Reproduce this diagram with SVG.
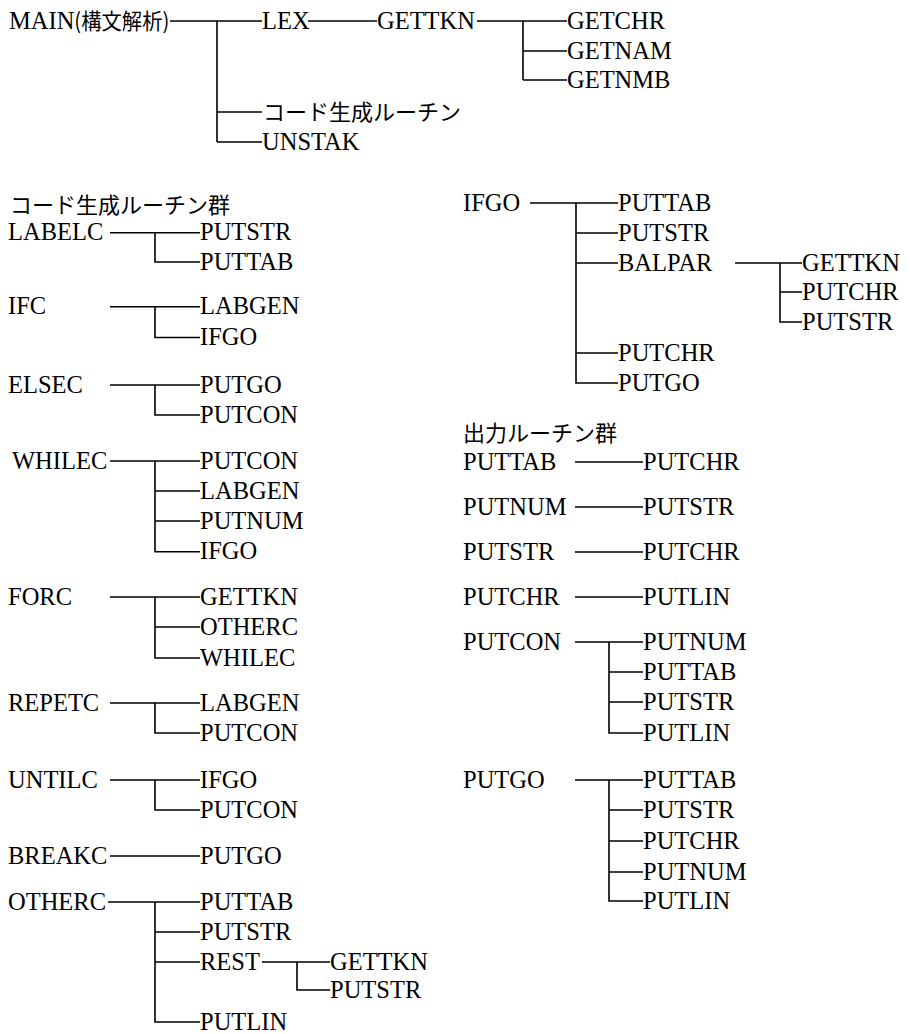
<svg xmlns="http://www.w3.org/2000/svg" width="910" height="1034" viewBox="0 0 910 1034">
<style>
.t{font-family:"Liberation Serif","Times New Roman",serif;font-size:24.5px;fill:#000}
.j{font-family:"Noto Sans CJK JP","Noto Sans CJK SC",sans-serif;font-size:22px;fill:#000}
.c{stroke:#000;stroke-width:1.6;fill:none}
</style>
<rect width="910" height="1034" fill="#fff"/>
<g id="connectors">
<path class="c" d="M170 21H262M217 21V142M217 112H262M217 142H262"/>
<path class="c" d="M308 21H377"/>
<path class="c" d="M477 21H567M523 21V80M523 51H567M523 80H567"/>
<path class="c" d="M110 232.7H200M155 232.7V262H200"/>
<path class="c" d="M110 306.7H200M155 306.7V337.5H200"/>
<path class="c" d="M110 385H200M155 385V415H200"/>
<path class="c" d="M110 461H200M155 461V551.7H200M155 491H200M155 521H200"/>
<path class="c" d="M110 597H200M155 597V658H200M155 627H200"/>
<path class="c" d="M110 703H200M155 703V733H200"/>
<path class="c" d="M110 780H200M155 780V810H200"/>
<path class="c" d="M110 856H200"/>
<path class="c" d="M108 902H200M155 902V1022H200M155 932H200M155 962H200"/>
<path class="c" d="M262 962H330M297 962V990H330"/>
<path class="c" d="M530 203H618M576 203V383H618M576 233H618M576 263H618M576 353H618"/>
<path class="c" d="M735 263H802M780 263V322H802M780 292H802"/>
<path class="c" d="M575 462H643"/>
<path class="c" d="M575 507H643"/>
<path class="c" d="M575 552H643"/>
<path class="c" d="M575 597H643"/>
<path class="c" d="M575 642H643M609 642V733H643M609 672H643M609 702H643"/>
<path class="c" d="M575 780H643M609 780V901H643M609 810H643M609 841H643M609 872H643"/>
</g>
<g id="n-main"><text class="t" x="9" y="28.5">MAIN<tspan class="j" font-size="21" textLength="95" lengthAdjust="spacingAndGlyphs">(構文解析)</tspan></text></g>
<g id="n-lex"><text class="t" x="262" y="28.5">LEX</text></g>
<g id="n-gettkn"><text class="t" x="377" y="28.5">GETTKN</text></g>
<g id="n-getchr"><text class="t" x="567" y="28.5">GETCHR</text></g>
<g id="n-getnam"><text class="t" x="567" y="58.5">GETNAM</text></g>
<g id="n-getnmb"><text class="t" x="567" y="87.5">GETNMB</text></g>
<g id="n-codegen"><text class="j" x="263" y="120">コード生成ルーチン</text></g>
<g id="n-unstak"><text class="t" x="262" y="149.5">UNSTAK</text></g>

<g id="h-codegen"><text class="j" x="10" y="213">コード生成ルーチン群</text></g>
<g id="n-labelc"><text class="t" x="8" y="240">LABELC</text></g>
<g id="n-labelc-putstr"><text class="t" x="200" y="240">PUTSTR</text></g>
<g id="n-labelc-puttab"><text class="t" x="200" y="269.5">PUTTAB</text></g>
<g id="n-ifc"><text class="t" x="8" y="314">IFC</text></g>
<g id="n-ifc-labgen"><text class="t" x="200" y="314">LABGEN</text></g>
<g id="n-ifc-ifgo"><text class="t" x="200" y="345">IFGO</text></g>
<g id="n-elsec"><text class="t" x="8" y="392.5">ELSEC</text></g>
<g id="n-elsec-putgo"><text class="t" x="200" y="392.5">PUTGO</text></g>
<g id="n-elsec-putcon"><text class="t" x="200" y="422.5">PUTCON</text></g>
<g id="n-whilec"><text class="t" x="12" y="468.5">WHILEC</text></g>
<g id="n-whilec-putcon"><text class="t" x="200" y="468.5">PUTCON</text></g>
<g id="n-whilec-labgen"><text class="t" x="200" y="498.5">LABGEN</text></g>
<g id="n-whilec-putnum"><text class="t" x="200" y="528.5">PUTNUM</text></g>
<g id="n-whilec-ifgo"><text class="t" x="200" y="559">IFGO</text></g>
<g id="n-forc"><text class="t" x="8" y="604.5">FORC</text></g>
<g id="n-forc-gettkn"><text class="t" x="200" y="604.5">GETTKN</text></g>
<g id="n-forc-otherc"><text class="t" x="200" y="634.5">OTHERC</text></g>
<g id="n-forc-whilec"><text class="t" x="200" y="665.5">WHILEC</text></g>
<g id="n-repetc"><text class="t" x="8" y="710.5">REPETC</text></g>
<g id="n-repetc-labgen"><text class="t" x="200" y="710.5">LABGEN</text></g>
<g id="n-repetc-putcon"><text class="t" x="200" y="740.5">PUTCON</text></g>
<g id="n-untilc"><text class="t" x="8" y="787.5">UNTILC</text></g>
<g id="n-untilc-ifgo"><text class="t" x="200" y="787.5">IFGO</text></g>
<g id="n-untilc-putcon"><text class="t" x="200" y="817.5">PUTCON</text></g>
<g id="n-breakc"><text class="t" x="8" y="863.5">BREAKC</text></g>
<g id="n-breakc-putgo"><text class="t" x="200" y="863.5">PUTGO</text></g>
<g id="n-otherc"><text class="t" x="8" y="909.5">OTHERC</text></g>
<g id="n-otherc-puttab"><text class="t" x="200" y="909.5">PUTTAB</text></g>
<g id="n-otherc-putstr"><text class="t" x="200" y="939.5">PUTSTR</text></g>
<g id="n-rest"><text class="t" x="200" y="969.5">REST</text></g>
<g id="n-rest-gettkn"><text class="t" x="330" y="969.5">GETTKN</text></g>
<g id="n-rest-putstr"><text class="t" x="330" y="997.5">PUTSTR</text></g>
<g id="n-otherc-putlin"><text class="t" x="200" y="1030">PUTLIN</text></g>

<g id="n-ifgo"><text class="t" x="463" y="211">IFGO</text></g>
<g id="n-ifgo-puttab"><text class="t" x="618" y="211">PUTTAB</text></g>
<g id="n-ifgo-putstr"><text class="t" x="618" y="241">PUTSTR</text></g>
<g id="n-balpar"><text class="t" x="618" y="271">BALPAR</text></g>
<g id="n-balpar-gettkn"><text class="t" x="802" y="271">GETTKN</text></g>
<g id="n-balpar-putchr"><text class="t" x="802" y="299.5">PUTCHR</text></g>
<g id="n-balpar-putstr"><text class="t" x="802" y="329.5">PUTSTR</text></g>
<g id="n-ifgo-putchr"><text class="t" x="618" y="360.5">PUTCHR</text></g>
<g id="n-ifgo-putgo"><text class="t" x="618" y="390.5">PUTGO</text></g>

<g id="h-output"><text class="j" x="463" y="441">出力ルーチン群</text></g>
<g id="n-puttab"><text class="t" x="463" y="469.5">PUTTAB</text></g>
<g id="n-puttab-putchr"><text class="t" x="643" y="469.5">PUTCHR</text></g>
<g id="n-putnum"><text class="t" x="463" y="514.5">PUTNUM</text></g>
<g id="n-putnum-putstr"><text class="t" x="643" y="514.5">PUTSTR</text></g>
<g id="n-putstr"><text class="t" x="463" y="559.5">PUTSTR</text></g>
<g id="n-putstr-putchr"><text class="t" x="643" y="559.5">PUTCHR</text></g>
<g id="n-putchr"><text class="t" x="463" y="604.5">PUTCHR</text></g>
<g id="n-putchr-putlin"><text class="t" x="643" y="604.5">PUTLIN</text></g>
<g id="n-putcon"><text class="t" x="463" y="649.5">PUTCON</text></g>
<g id="n-putcon-putnum"><text class="t" x="643" y="649.5">PUTNUM</text></g>
<g id="n-putcon-puttab"><text class="t" x="643" y="679.5">PUTTAB</text></g>
<g id="n-putcon-putstr"><text class="t" x="643" y="709.5">PUTSTR</text></g>
<g id="n-putcon-putlin"><text class="t" x="643" y="740.5">PUTLIN</text></g>
<g id="n-putgo"><text class="t" x="463" y="787.5">PUTGO</text></g>
<g id="n-putgo-puttab"><text class="t" x="643" y="787.5">PUTTAB</text></g>
<g id="n-putgo-putstr"><text class="t" x="643" y="817.5">PUTSTR</text></g>
<g id="n-putgo-putchr"><text class="t" x="643" y="848.5">PUTCHR</text></g>
<g id="n-putgo-putnum"><text class="t" x="643" y="879.5">PUTNUM</text></g>
<g id="n-putgo-putlin"><text class="t" x="643" y="908.5">PUTLIN</text></g>
</svg>
